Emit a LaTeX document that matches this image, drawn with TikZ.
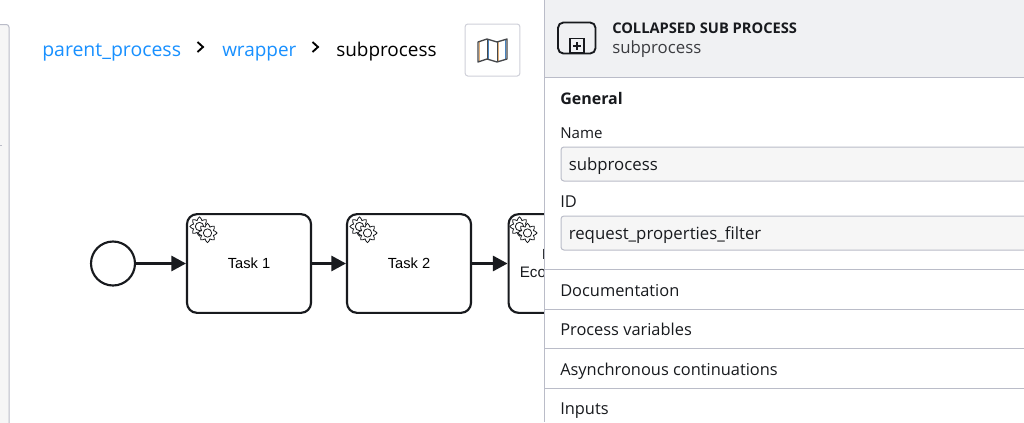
\documentclass[tikz,border=0pt]{standalone}
\usepackage{fontspec}
\setmainfont{Open Sans}
\newfontfamily\taskfont{Liberation Sans}
\usepackage{xcolor}
\usetikzlibrary{arrows.meta, positioning, calc}
\definecolor{linkblue}{RGB}{24,144,255}
\definecolor{panelline}{RGB}{186,188,200}
\definecolor{headerfill}{RGB}{240,241,243}
\definecolor{fieldfill}{RGB}{246,246,246}
\definecolor{inkblack}{RGB}{24,26,30}
\definecolor{mapblue}{RGB}{70,130,190}
\definecolor{maporange}{RGB}{225,175,120}
\tikzset{
    task/.style={
        rectangle,
        draw=inkblack,
        line width=1.6pt,
        rounded corners=7.5pt,
        fill=white,
        minimum width=93pt,
        minimum height=74pt,
        font=\taskfont\fontsize{11}{12}\selectfont
    },
    startevent/.style={
        circle,
        draw=inkblack,
        line width=1.6pt,
        fill=white,
        minimum size=33pt,
        inner sep=0pt
    },
    flow/.style={
        draw=inkblack,
        line width=1.6pt,
        -{Triangle[length=11pt,width=11.5pt]}
    },
    crumb/.style={
        anchor=base west,
        inner sep=0pt,
        font=\fontsize{14.2}{16}\selectfont
    },
    chevron/.style={
        draw=black,
        line width=1.4pt
    },
    field/.style={
        rectangle,
        draw=panelline,
        fill=fieldfill,
        line width=0.75pt,
        rounded corners=2.2pt,
        minimum height=25.5pt,
        minimum width=400pt,
        anchor=north west
    },
    fieldtext/.style={
        anchor=base west,
        inner sep=0pt,
        text=inkblack,
        font=\fontsize{12.6}{14}\selectfont
    },
    paneltext/.style={
        anchor=base west,
        inner sep=0pt,
        text=inkblack,
        font=\fontsize{12.3}{14}\selectfont
    },
    sep/.style={
        draw=panelline,
        line width=0.75pt
    },
    gear/.style={
        draw=inkblack,
        line width=0.6pt,
        fill=white
    }
}
% gear outline at a point, #3 = outer radius (in px units)
\newcommand{\gearicon}[3]{
    \draw[gear] plot[smooth cycle, tension=0.25, samples=33, domain=0:360, variable=\a]
        ({#1+(#3+(#3*0.2)*cos(8*\a))*cos(\a)}, {#2+(#3+(#3*0.2)*cos(8*\a))*sin(\a)});
    \draw[gear] (#1,#2) circle ({#3*0.52});
}
\begin{document}
\begin{tikzpicture}[x=0.75pt, y=-0.75pt]
\useasboundingbox (0,0) rectangle (1024,422);
\fill[white] (0,0) rectangle (1024,422);

% Left tab
\draw[panelline, fill=fieldfill, line width=0.75pt, rounded corners=2pt] (-6,24.5) -- (9,24.5) -- (9,429) -- (-6,429);
\draw[panelline, line width=0.75pt] (0,145.5) -- (2,145.5);

% Breadcrumb
\node[crumb, text=linkblue, font=\fontsize{14.6}{16}\selectfont] (crumbparent) at (42,56) {parent\_process};
\node[crumb, text=linkblue] (crumbwrapper) at (222,56) {wrapper};
\node[crumb, text=black] (crumbsub) at (336,56) {subprocess};
\draw[chevron] (197.5,42) -- (203,47) -- (197.5,52);
\draw[chevron] (312.5,42) -- (318,47) -- (312.5,52);

% Map button
\node[draw=panelline!70, fill=white, rounded corners=2pt, line width=0.75pt, minimum width=41pt, minimum height=39pt, inner sep=0pt] (mapbtn) at (492.5,50) {};
\draw[maporange, line width=0.7pt] (479.5,42) -- (479.5,62) (498,42) -- (498,62);
\draw[mapblue, line width=0.7pt] (488,39) -- (488,59) (505.5,39) -- (505.5,59);
\draw[inkblack!80, line width=1pt, line join=round] (478,42) -- (487,39) -- (497,42) -- (507,39) -- (507,59) -- (497,62) -- (487,59) -- (478,62) -- cycle;
\draw[inkblack!80, line width=0.6pt] (487,39) -- (487,59) (497,42) -- (497,62);

% Flow
\node[startevent] (start) at (113,263.5) {};
\node[task] (task1) at (249,263.5) {Task 1};
\node[task] (task2) at (409,263.5) {Task 2};
\node[task, anchor=west] (task3) at (507.5,263.5) {};
\node[font=\taskfont\fontsize{11.4}{12}\selectfont, anchor=base west, inner sep=0pt, text=inkblack] (task3text) at (519.5,277) {Eco};
\node[font=\taskfont\fontsize{11}{12}\selectfont, anchor=base west, inner sep=0pt, text=inkblack] (task3first) at (541.5,259) {I};
\draw[flow] (start) -- (task1);
\draw[flow] (task1) -- (task2);
\draw[flow] (task2) -- (task3);

\gearicon{199.5}{226.5}{8}
\gearicon{207.5}{233}{8}
\gearicon{359.5}{226.5}{8}
\gearicon{367.5}{233}{8}
\gearicon{519.5}{226.5}{8}
\gearicon{527.5}{233}{8}

% Properties panel
\fill[white] (545,0) rectangle (1024,422);
\fill[headerfill] (545,0) rectangle (1024,77);
\draw[sep] (544.5,0) -- (544.5,422);
\draw[sep] (545,77.5) -- (1024,77.5);

% Header icon
\draw[inkblack, line width=1.4pt, rounded corners=4pt] (558,22.5) rectangle (595.5,53.5);
\draw[inkblack, fill=headerfill, line width=0.9pt] (570,38.5) rectangle (584,53);
\draw[inkblack, line width=0.9pt] (577,42) -- (577,50) (573,46) -- (581,46);
\node[anchor=base west, inner sep=0pt, text=inkblack, font=\bfseries\fontsize{11}{12}\selectfont] (headtype) at (612,33) {COLLAPSED SUB PROCESS};
\node[paneltext, text=inkblack!85, font=\fontsize{12.6}{14}\selectfont] (headname) at (612,53) {subprocess};

% General group
\node[paneltext, font=\bfseries\fontsize{12}{14}\selectfont] (general) at (560,104) {General};
\node[paneltext, font=\fontsize{11.3}{14}\selectfont] (namelbl) at (560,138) {Name};
\node[field] (namefield) at (560.5,146.5) {};
\node[fieldtext] (nametext) at (568.5,170) {subprocess};
\node[paneltext] (idlbl) at (560,207) {ID};
\node[field] (idfield) at (560.5,215.5) {};
\node[fieldtext] (idtext) at (568.5,239) {request\_properties\_filter};

% Collapsed groups
\draw[sep] (545,269.5) -- (1024,269.5);
\node[paneltext] (docs) at (560,296) {Documentation};
\draw[sep] (545,309.5) -- (1024,309.5);
\node[paneltext] (vars) at (560,335) {Process variables};
\draw[sep] (545,348.5) -- (1024,348.5);
\node[paneltext] (async) at (560,375) {Asynchronous continuations};
\draw[sep] (545,388) -- (1024,388);
\node[paneltext] (inputs) at (560,414) {Inputs};

\end{tikzpicture}
\end{document}
